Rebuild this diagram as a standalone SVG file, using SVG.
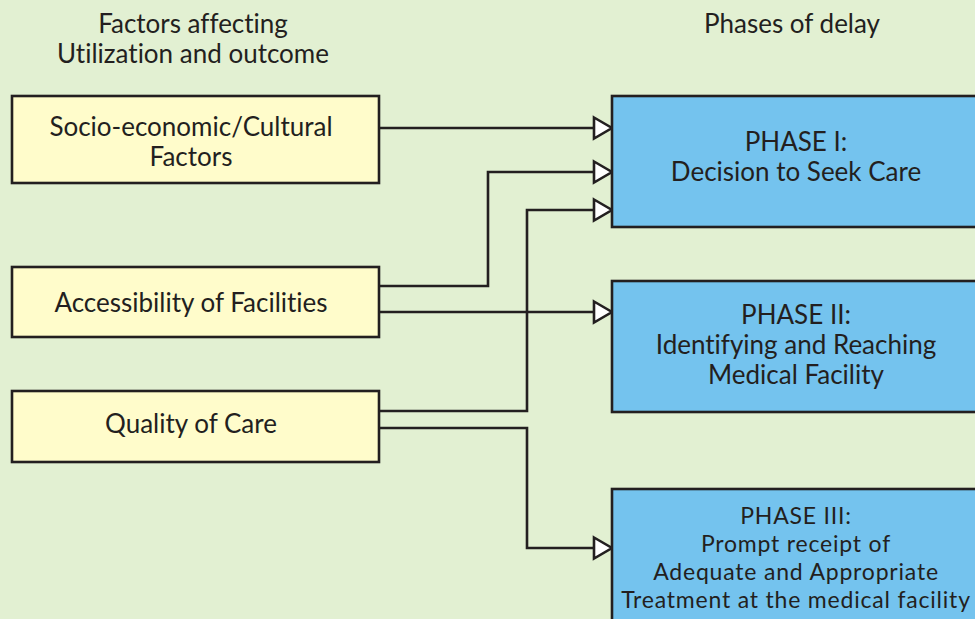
<svg xmlns="http://www.w3.org/2000/svg" width="975" height="619" viewBox="0 0 975 619">
<defs>
<marker id="arr" markerUnits="userSpaceOnUse" markerWidth="24" markerHeight="26" viewBox="0 0 24 26" refX="21" refY="13" orient="auto">
<path d="M3,2.5 L21,13 L3,23.5 Z" fill="#fff" stroke="#231f20" stroke-width="2.6" stroke-linejoin="miter"/>
</marker>
<style>
.f{fill:#fffccb;stroke:#231f20;stroke-width:2.6}
.p{fill:#74c3ee;stroke:#231f20;stroke-width:2.6}
.c{fill:none;stroke:#231f20;stroke-width:2.6;marker-end:url(#arr)}
text{font-family:Lato,"Open Sans","Liberation Sans",sans-serif;font-size:26px;fill:#231f20;text-anchor:middle;font-variant-ligatures:none}
.s{font-size:23px;letter-spacing:0.8px}
</style>
</defs>
<rect width="975" height="619" fill="#e2f0d2"/>
<g id="headers">
<text x="193" y="33">Factors affecting</text>
<text x="193" y="63">Utilization and outcome</text>
<text x="792" y="33">Phases of delay</text>
</g>
<g id="connectors">
<path class="c" d="M379,128 H612"/>
<path class="c" d="M379,286 H488 V172 H612"/>
<path class="c" d="M379,312 H612"/>
<path class="c" d="M379,411 H527 V210 H612"/>
<path class="c" d="M379,428 H527 V548 H612"/>
</g>
<g id="socio">
<rect class="f" x="12" y="96" width="367" height="87"/>
<text x="191" y="136">Socio-economic/Cultural</text>
<text x="191" y="166">Factors</text>
</g>
<g id="access">
<rect class="f" x="12" y="267" width="367" height="70"/>
<text x="191" y="312">Accessibility of Facilities</text>
</g>
<g id="quality">
<rect class="f" x="12" y="391" width="367" height="71"/>
<text x="191" y="433">Quality of Care</text>
</g>
<g id="phase1">
<rect class="p" x="612" y="96" width="370" height="131"/>
<text x="796" y="151">PHASE I:</text>
<text x="796" y="181">Decision to Seek Care</text>
</g>
<g id="phase2">
<rect class="p" x="612" y="281" width="370" height="131"/>
<text x="796" y="324">PHASE II:</text>
<text x="796" y="354">Identifying and Reaching</text>
<text x="796" y="384">Medical Facility</text>
</g>
<g id="phase3">
<rect class="p" x="612" y="489" width="370" height="140"/>
<text class="s" x="796" y="524">PHASE III:</text>
<text class="s" x="796" y="552">Prompt receipt of</text>
<text class="s" x="796" y="580">Adequate and Appropriate</text>
<text class="s" x="796" y="608">Treatment at the medical facility</text>
</g>
</svg>
